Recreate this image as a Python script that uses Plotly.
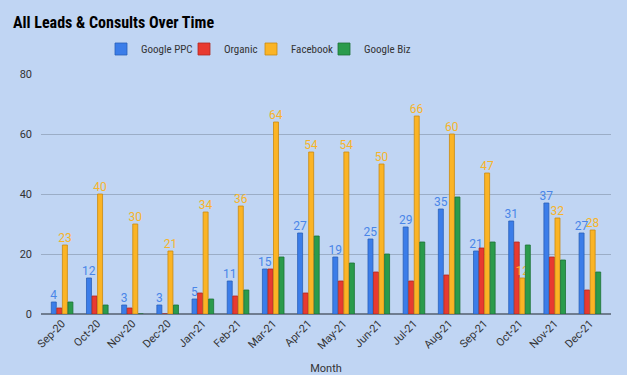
import plotly.graph_objects as go

months = ["Sep-20", "Oct-20", "Nov-20", "Dec-20", "Jan-21", "Feb-21", "Mar-21", "Apr-21",
          "May-21", "Jun-21", "Jul-21", "Aug-21", "Sep-21", "Oct-21", "Nov-21", "Dec-21"]
google_ppc = [4, 12, 3, 3, 5, 11, 15, 27, 19, 25, 29, 35, 21, 31, 37, 27]
organic = [2, 6, 2, 0, 7, 6, 15, 7, 11, 14, 11, 13, 22, 24, 19, 8]
facebook = [23, 40, 30, 21, 34, 36, 64, 54, 54, 50, 66, 60, 47, 12, 32, 28]
google_biz = [4, 3, 0, 3, 5, 8, 19, 26, 17, 20, 24, 39, 24, 23, 18, 14]

series = [
    ("Google PPC", google_ppc, "#3b7de9", "#2a5fb8", True, "#4a86e8"),
    ("Organic", organic, "#e83a30", "#b02a22", False, None),
    ("Facebook", facebook, "#fbb425", "#c98a10", True, "#f6b42b"),
    ("Google Biz", google_biz, "#2a9b4c", "#1d7236", False, None),
]
legend_ids = ["legend", "legend2", "legend3", "legend4"]
legend_x = [101, 184, 251, 324]  # px, left edge of each legend entry

NARROW = "Liberation Sans Narrow, Arial Narrow, Roboto Condensed, Liberation Sans, Arial, sans-serif"

fig = go.Figure()
for (name, vals, col, edge, lab, labcol), lid in zip(series, legend_ids):
    fig.add_trace(go.Bar(
        name=name, x=months, y=vals, legend=lid,
        marker=dict(color=col, line=dict(color=edge, width=0.8)),
        text=[str(v) for v in vals] if lab else None,
        textposition="outside" if lab else None,
        textfont=dict(color=labcol, size=12, family="Roboto, Arial, sans-serif") if lab else None,
        constraintext="none",
        cliponaxis=False,
    ))

legend_common = dict(orientation="h", xref="container", xanchor="left",
                     yref="container", y=1 - 49 / 375, yanchor="middle",
                     font=dict(family=NARROW, size=11, color="#333333"),
                     bgcolor="rgba(0,0,0,0)", itemwidth=30)
legends = {}
for lid, lx in zip(legend_ids, legend_x):
    legends[lid] = dict(legend_common, x=lx / 627)

fig.update_layout(
    width=627, height=375,
    paper_bgcolor="#c0d5f3", plot_bgcolor="#c0d5f3",
    barmode="group", bargap=0.37, bargroupgap=0.1,
    margin=dict(l=41, r=16, t=74, b=61, pad=0),
    title=dict(text="<b>All Leads & Consults Over Time</b>", x=13 / 627, xanchor="left",
               y=1 - 22 / 375, yanchor="middle", pad=dict(l=0, t=0, b=0, r=0),
               font=dict(family=NARROW, size=16, color="#000000")),
    font=dict(family="Roboto, Arial, sans-serif", size=11, color="#333333"),
    xaxis=dict(range=[-0.6, 15.6], tickangle=-45, showgrid=False, ticks="",
               automargin=False,
               tickfont=dict(size=11, color="#333333"),
               title=dict(text="Month", font=dict(size=11, color="#333333"), standoff=40)),
    yaxis=dict(range=[0, 80], dtick=20, gridcolor="#9badc6", gridwidth=1,
               automargin=False,
               zeroline=True, zerolinecolor="#6f7d90", zerolinewidth=1.5,
               tickfont=dict(size=11, color="#333333"), ticklabelstandoff=8),
    showlegend=True,
    **legends,
)

fig.write_html("out.html", config={"displayModeBar": False},
               post_script="document.body.style.margin='0';document.body.style.background='#c0d5f3';")
